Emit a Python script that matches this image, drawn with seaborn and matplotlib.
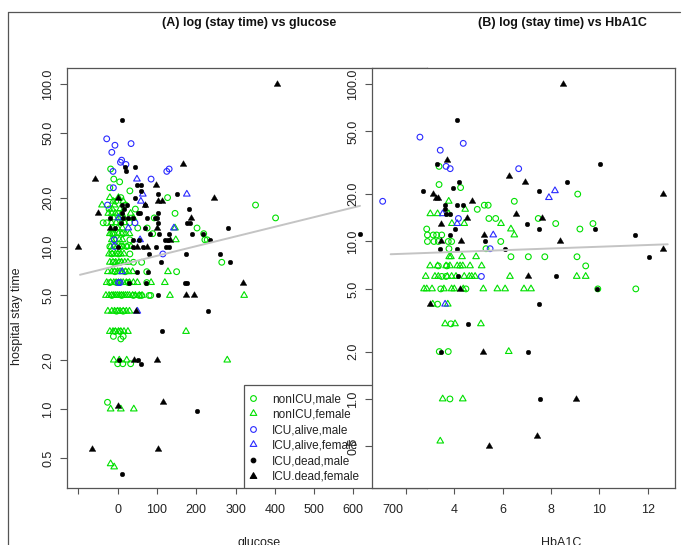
import matplotlib
matplotlib.use("Agg")
import matplotlib.pyplot as plt
from matplotlib.lines import Line2D
from matplotlib.patches import Rectangle
from matplotlib.path import Path
from matplotlib.ticker import NullLocator
import seaborn as sns
import pandas as pd

# ---------------- data ----------------
group_names = ["nonICU,male", "nonICU,female", "ICU,alive,male",
               "ICU,alive,female", "ICU,dead,male", "ICU.dead,female"]

# Panel A: (glucose, hospital stay time)
a_nonicu_male = [(-18,30),(-20,23),(31,22),(127,20),(8,20),(146,16),(351,18),(402,15),(202,13),(219,12),
    (222,11),(228,11),(89,12),(150,7),(265,8),(84,5),(-26,1.1),(0,1.9),(13,1.9),(33,1.9),
    (-15,12),(-11,12),(14,12),(31,11),(-20,10),(10,10),(23,10),(-15,9),(2,9),(31,9),
    (61,8),(-11,8),(6,8),(40,8),(74,7),(-7,7),(19,7),(-20,6),(-3,6),(27,6),(74,6),
    (-15,5),(10,5),(40,5),(61,5),(-3,4),(14,4),(-7,3),(6,3),(14,2.8),(-37,14),(30,14),
    (51,13),(75,13),(93,15),(80,5),(55,5),(-11,2.8),(8,2.7),(-22,17),(2,16),(20,18),
    (-5,19),(45,17),(10,15),(-28,14),(-10,26),(5,25)]
a_nonicu_female = [(-40,18),(-8,18),(-18,0.46),(-9,0.44),(-18,1),(8,1),(41,1),(23,2),(174,3),(279,2),
    (322,5),(128,7),(120,6),(85,6),(133,5),(148,11),(146,13),(-15,16),(33,16),(40,15),
    (-30,5),(-22,5),(-15,5),(-10,5),(-5,5),(0,5),(5,5),(10,5),(15,5),(20,5),(25,5),(30,5),
    (38,5),(45,5),(55,5),(62,5),
    (-28,6),(-18,6),(-10,6),(-4,6),(2,6),(8,6),(14,6),(22,6),(30,6),(40,6),(50,6),
    (-25,7),(-15,7),(-8,7),(0,7),(6,7),(12,7),(20,7),(28,7),(38,7),
    (-20,8),(-12,8),(-5,8),(3,8),(10,8),(18,8),(26,8),
    (-22,9),(-14,9),(-6,9),(0,9),(8,9),(16,9),
    (-18,10),(-10,10),(-2,10),(6,10),(14,10),(24,10),(34,10),
    (-15,11),(-6,11),(4,11),(12,11),
    (-20,12),(-8,12),(2,12),(10,12),(20,12),(30,12),
    (-12,13),(0,13),(12,13),(-16,14),(-4,14),(8,14),(18,14),
    (-10,15),(4,15),(16,15),(-24,16),(-6,16),(10,16),(-14,17),(6,17),
    (-12,19),(14,19),(-20,20),(2,20),
    (-25,4),(-15,4),(-8,4),(0,4),(6,4),(14,4),(22,4),(30,4),
    (-20,3),(-12,3),(-6,3),(2,3),(8,3),(16,3),(26,3),(-10,2),(4,2)]
a_icu_alive_male = [(-28,46),(-7,42),(34,43),(-15,38),(10,34),(7,33),(21,32),(-12,29),(131,30),(125,29),
    (85,26),(-11,23),(-26,18),(-9,11),(-8,10),(44,14),(115,9),(2,6),(6,6)]
a_icu_alive_female = [(49,26),(64,21),(59,19),(176,21),(2,15),(27,13),(57,11),(143,13),(11,7),(50,4)]
a_icu_dead_male = [(12,60),(19,31),(43,31),(20,29),(50,24),(60,24),(60,22),(43,20),(102,21),(150,21),
    (12,18),(23,18),(17,17),(12,16),(181,17),(103,16),(52,16),(40,15),(176,14),(184,14),
    (282,13),(216,12),(188,12),(235,11),(131,12),(127,11),(2,10),(98,10),(131,10),(174,9),
    (260,9),(286,8),(79,9),(109,8),(49,7),(77,7),(30,6),(72,6),(171,6),(176,6),(102,5),
    (231,4),(112,3),(4,2),(52,2),(59,1.9),(201,0.97),(10,0.4),(617,12),
    (8,14),(57,16),(102,14),(69,13),(82,12),(104,12),(120,11),(123,10),(-20,15),(14,15),
    (-7,13),(40,11),(55,11),(40,10),(64,10),(95,15),(69,18),(74,15),(99,15),(25,15)]
a_icu_dead_female = [(-100,10),(-65,0.57),(-58,26),(-49,16),(-20,13),(0,20),(0,1.05),(42,2),(46,4),(48,10),
    (69,18),(75,10),(97,24),(102,19),(114,19),(101,13),(99,2),(103,0.57),(116,1.1),(133,11),
    (166,32),(174,5),(195,5),(186,15),(244,20),(320,6),(406,100)]

# Panel B: (HbA1C, hospital stay time)
b_nonicu_male = [(3.37,30),(3.37,23),(4.26,22),(9.1,20),(6.48,18),(5.24,17),(5.4,17),(4.95,16),(5.43,14),
    (5.71,14),(7.47,14),(8.19,13),(9.73,13),(9.19,12),(5.92,10),(3.78,9),(5.31,9),(6.34,8),
    (7.06,8),(7.74,8),(9.07,8),(9.43,7),(9.93,5),(11.5,5),(3.31,4),(3.86,3),(3.38,2),(3.75,2),
    (3.82,1),(2.86,12),(2.89,11),(3.13,11),(3.27,11),(3.48,11),(2.89,10),(3.16,10),(3.34,10),
    (3.75,10),(3.89,10),(3.34,7),(3.69,7),(3.48,6),(3.66,6),(3.44,5),(4.48,5)]
b_nonicu_female = [(3.77,18),(4.45,16),(3.01,15),(3.31,15),(3.77,15),(3.9,13),(4.41,13),(5.93,13),(6.34,12),
    (6.48,11),(3.79,8),(3.86,8),(4.32,8),(4.9,8),
    (3.0,7),(3.31,7),(3.66,7),(3.82,7),(4.12,7),(4.24,7),(4.35,7),(4.65,7),(5.13,7),
    (2.82,6),(3.2,6),(3.34,6),(3.71,6),(3.89,6),(4.07,6),(4.41,6),(4.62,6),(4.72,6),(4.86,6),
    (6.3,6),(9.06,6),(9.43,6),
    (2.75,5),(2.86,5),(3.08,5),(3.57,5),(3.89,5),(4.0,5),(4.37,5),(5.2,5),(5.78,5),(6.1,5),
    (6.88,5),(7.17,5),(3.11,4),(3.73,4),(3.62,3),(4.03,3),(5.1,3),(6.25,2),(3.52,1),(4.35,1),
    (3.42,0.54)]
b_icu_alive_male = [(1.04,18),(2.58,46),(4.37,42),(3.42,38),(3.66,30),(3.83,29),(6.66,29),(4.17,14),
    (5.48,9),(5.12,6)]
b_icu_alive_female = [(8.16,21),(7.91,19),(3.52,15),(4.12,13),(5.61,11),(3.62,4)]
b_icu_dead_male = [(4.1,59),(3.3,31),(10.03,31),(4.19,24),(3.95,22),(2.71,21),(8.67,24),(7.49,21),(3.63,17),
    (4.12,17),(4.37,17),(3.62,16),(3.83,15),(3.66,15),(7.0,13),(4.03,12),(7.51,12),(9.81,12),
    (11.47,11),(5.27,10),(3.82,11),(3.41,9),(4.12,9),(6.1,9),(12.06,8),(4.14,6),(8.2,6),
    (9.88,5),(7.5,4),(4.57,3),(3.45,2),(7.05,2),(7.54,1)]
b_icu_dead_female = [(8.5,100),(3.69,33),(6.27,26),(6.93,24),(12.61,20),(3.1,20),(3.23,19),(3.33,19),
    (4.72,18),(6.54,15),(4.54,14),(7.64,14),(3.45,13),(5.24,11),(3.45,10),(4.28,10),(8.37,10),
    (12.64,9),(7.05,6),(4.24,5),(3.0,4),(5.2,2),(9.02,1),(7.42,0.58),(5.45,0.5)]

# fitted trend lines (end points of the grey lines)
trend_a_glucose = [-96, 617]
trend_a_stay = [6.7, 17.8]
trend_b_hba1c = [1.37, 12.82]
trend_b_stay = [8.3, 9.6]

y_ticks = [0.5, 1, 2, 5, 10, 20, 50, 100]
y_tick_labels = ["0.5", "1.0", "2.0", "5.0", "10.0", "20.0", "50.0", "100.0"]
a_x_ticks = [-100, 0, 100, 200, 300, 400, 500, 600, 700]
a_x_tick_labels = ["", "0", "100", "200", "300", "400", "500", "600", "700"]
b_x_ticks = [2, 4, 6, 8, 10, 12]
b_x_tick_labels = ["", "4", "6", "8", "10", "12"]

title_a = "(A) log (stay time) vs glucose"
title_b = "(B) log (stay time) vs HbA1C"

# ---------------- styles ----------------
GREEN = "#00e000"
BLUE = "#2a2aff"
TRI = Path([(0, 1), (-0.866, -0.5), (0.866, -0.5), (0, 1)],
           [Path.MOVETO, Path.LINETO, Path.LINETO, Path.CLOSEPOLY])
styles = {
    "nonICU,male":      dict(marker="o", s=17, color=GREEN, open=True),
    "nonICU,female":    dict(marker=TRI, s=30, color=GREEN, open=True),
    "ICU,alive,male":   dict(marker="o", s=17, color=BLUE, open=True),
    "ICU,alive,female": dict(marker=TRI, s=30, color=BLUE, open=True),
    "ICU,dead,male":    dict(marker="o", s=11, color="black", open=False),
    "ICU.dead,female":  dict(marker=TRI, s=30, color="black", open=False),
}

sns.set_theme(style="white")
plt.rcParams["font.family"] = ["Liberation Sans", "DejaVu Sans"]

W, H = 685, 545
fig = plt.figure(figsize=(W / 100, H / 100), dpi=100)


def rect(l, t, r, b):
    return [l / W, 1 - b / H, (r - l) / W, (b - t) / H]


ax1 = fig.add_axes(rect(67, 68, 427, 488))
ax2 = fig.add_axes(rect(371.7, 68, 675, 488))
ax2.set_zorder(ax1.get_zorder() + 1)
ax2.set_facecolor("white")


def to_frame(groups, xname):
    rows = []
    for name, pairs in zip(group_names, groups):
        for x, y in pairs:
            rows.append({xname: x, "stay": y, "group": name})
    return pd.DataFrame(rows)


df_a = to_frame([a_nonicu_male, a_nonicu_female, a_icu_alive_male,
                 a_icu_alive_female, a_icu_dead_male, a_icu_dead_female], "glucose")
df_b = to_frame([b_nonicu_male, b_nonicu_female, b_icu_alive_male,
                 b_icu_alive_female, b_icu_dead_male, b_icu_dead_female], "HbA1C")

SPINE = "#555555"
for ax in (ax1, ax2):
    ax.set_yscale("log")


def draw(ax, df, xname):
    for name in group_names:
        sub = df[df["group"] == name]
        st = styles[name]
        kw = dict(marker=st["marker"], s=st["s"], legend=False, zorder=3, ax=ax)
        if st["open"]:
            kw.update(color=st["color"], facecolor="none", edgecolor=st["color"], linewidth=0.8)
        else:
            kw.update(color=st["color"], edgecolor=st["color"], linewidth=0.3)
        sns.scatterplot(data=sub, x=xname, y="stay", **kw)


draw(ax1, df_a, "glucose")
draw(ax2, df_b, "HbA1C")

sns.lineplot(x=trend_a_glucose, y=trend_a_stay, ax=ax1, color="#c4c4c4", linewidth=1.4, zorder=4)
sns.lineplot(x=trend_b_hba1c, y=trend_b_stay, ax=ax2, color="#c4c4c4", linewidth=1.4, zorder=4)

ax1.set_xlim(-129.1, 787.6)
ax1.set_ylim(0.3266, 125.5)
ax2.set_xlim(0.587, 13.12)
ax2.set_ylim(0.272, 126.4)

for ax, xt, xtl in ((ax1, a_x_ticks, a_x_tick_labels), (ax2, b_x_ticks, b_x_tick_labels)):
    ax.set_xticks(xt)
    ax.set_xticklabels(xtl)
    ax.set_yticks(y_ticks)
    ax.set_yticklabels(y_tick_labels)
    ax.yaxis.set_minor_locator(NullLocator())
    ax.xaxis.set_minor_locator(NullLocator())
    ax.set_xlabel("")
    ax.set_ylabel("")
    for sp in ax.spines.values():
        sp.set_visible(True)
        sp.set_color(SPINE)
        sp.set_linewidth(0.9)
    ax.tick_params(axis="x", bottom=True, direction="out", length=4.3, width=0.8,
                   color=SPINE, labelsize=9, labelcolor="#222222", pad=7.5)
    ax.tick_params(axis="y", left=True, direction="out", length=5, width=0.8,
                   color=SPINE, labelsize=9, labelcolor="#222222", pad=4, labelrotation=90)
    for lab in ax.get_yticklabels():
        lab.set_va("center")
    ax.grid(False)

# the 700 label of panel A has no tick mark
ax1.xaxis.get_major_ticks()[-1].tick1line.set_visible(False)

# legend of panel A
ax1.add_patch(Rectangle(((244 - 67) / 360, 0), 0.49, (488 - 385) / 420,
                        transform=ax1.transAxes, facecolor="white", edgecolor=SPINE,
                        linewidth=0.9, zorder=5))
handles = []
for name in group_names:
    st = styles[name]
    handles.append(Line2D([], [], linestyle="none", marker=st["marker"],
                          markersize=st["s"] ** 0.5,
                          markerfacecolor="none" if st["open"] else st["color"],
                          markeredgecolor=st["color"], markeredgewidth=0.8))
leg = ax1.legend(handles, group_names, loc="upper left",
                 bbox_to_anchor=((247.1 - 67) / 360, (488 - 393) / 420),
                 frameon=False, fontsize=8.5, handlelength=1.0, handletextpad=1.1,
                 labelspacing=0.3, borderpad=0, borderaxespad=0)
leg.set_zorder(6)
for t in leg.get_texts():
    t.set_color("#222222")

# titles and axis labels
fig.text(249 / W, 1 - 23 / H, title_a, ha="center", va="center", fontsize=9,
         fontweight="bold", color="#111111")
fig.text(562 / W, 1 - 23 / H, title_b, ha="center", va="center", fontsize=9,
         fontweight="bold", color="#111111")
fig.text(259 / W, 1 - 543 / H, "glucose", ha="center", va="center", fontsize=9, color="#222222")
fig.text(561 / W, 1 - 543 / H, "HbA1C", ha="center", va="center", fontsize=9, color="#222222")
fig.text(17 / W, 1 - 316 / H, "hospital stay time", ha="center", va="center",
         rotation=90, fontsize=9, color="#222222")

# outer frame of the screenshot
fig.add_artist(Line2D([8 / W, 8 / W], [1 - 12 / H, 0], transform=fig.transFigure,
                      color=SPINE, linewidth=0.9))
fig.add_artist(Line2D([8 / W, 680 / W], [1 - 12 / H, 1 - 12 / H], transform=fig.transFigure,
                      color=SPINE, linewidth=0.9))

fig.savefig("out.png", dpi=100)
